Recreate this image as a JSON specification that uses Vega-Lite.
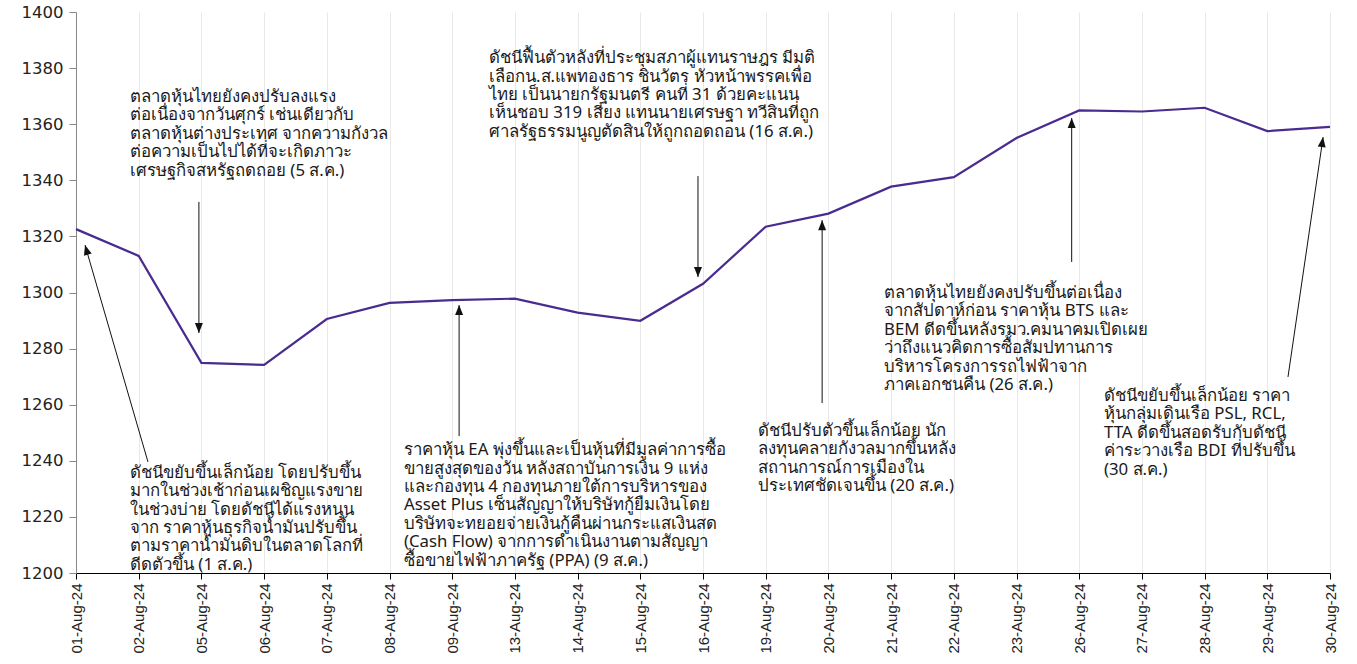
{
  "$schema": "https://vega.github.io/schema/vega-lite/v6.json",
  "width": 1254,
  "height": 561,
  "autosize": {"type": "none"},
  "padding": {"left": 76, "top": 12, "right": 27, "bottom": 91},
  "background": "white",
  "config": {"view": {"stroke": null}, "font": "Liberation Sans"},
  "datasets": {
    "series": [
      {"date": "01-Aug-24", "value": 1322.59},
      {"date": "02-Aug-24", "value": 1313.04},
      {"date": "05-Aug-24", "value": 1274.92},
      {"date": "06-Aug-24", "value": 1274.19},
      {"date": "07-Aug-24", "value": 1290.55},
      {"date": "08-Aug-24", "value": 1296.28},
      {"date": "09-Aug-24", "value": 1297.25},
      {"date": "13-Aug-24", "value": 1297.82},
      {"date": "14-Aug-24", "value": 1292.80},
      {"date": "15-Aug-24", "value": 1289.93},
      {"date": "16-Aug-24", "value": 1303.11},
      {"date": "19-Aug-24", "value": 1323.45},
      {"date": "20-Aug-24", "value": 1328.12},
      {"date": "21-Aug-24", "value": 1337.73},
      {"date": "22-Aug-24", "value": 1341.14},
      {"date": "23-Aug-24", "value": 1355.09},
      {"date": "26-Aug-24", "value": 1364.90},
      {"date": "27-Aug-24", "value": 1364.52},
      {"date": "28-Aug-24", "value": 1365.86},
      {"date": "29-Aug-24", "value": 1357.53},
      {"date": "30-Aug-24", "value": 1359.07}
    ],
    "arrows": [
      {"x": 1.148, "y": 1239.6, "x2": 0.144, "y2": 1316.9, "dir": "upleft"},
      {"x": 1.96, "y": 1332.3, "x2": 1.96, "y2": 1285.6, "dir": "down"},
      {"x": 6.11, "y": 1248.8, "x2": 6.11, "y2": 1295.5, "dir": "up"},
      {"x": 9.92, "y": 1341.5, "x2": 9.92, "y2": 1305.5, "dir": "down"},
      {"x": 11.9, "y": 1260.6, "x2": 11.9, "y2": 1325.8, "dir": "up"},
      {"x": 15.88, "y": 1310.9, "x2": 15.88, "y2": 1362.2, "dir": "up"},
      {"x": 19.33, "y": 1269.9, "x2": 19.89, "y2": 1355.4, "dir": "upright"}
    ],
    "notes": [
      {"x": 0.861, "y": 1372.2, "label": "ตลาดหุ้นไทยยังคงปรับลงแรง\nต่อเนื่องจากวันศุกร์ เช่นเดียวกับ\nตลาดหุ้นต่างประเทศ จากความกังวล\nต่อความเป็นไปได้ที่จะเกิดภาวะ\nเศรษฐกิจสหรัฐถดถอย (5 ส.ค.)"},
      {"x": 6.587, "y": 1386.0, "label": "ดัชนีฟื้นตัวหลังที่ประชุมสภาผู้แทนราษฎร มีมติ\nเลือกน.ส.แพทองธาร ชินวัตร หัวหน้าพรรคเพื่อ\nไทย เป็นนายกรัฐมนตรี คนที่ 31 ด้วยคะแนน\nเห็นชอบ 319 เสียง แทนนายเศรษฐา ทวีสินที่ถูก\nศาลรัฐธรรมนูญตัดสินให้ถูกถอดถอน (16 ส.ค.)"},
      {"x": 0.861, "y": 1238.2, "label": "ดัชนีขยับขึ้นเล็กน้อย โดยปรับขึ้น\nมากในช่วงเช้าก่อนเผชิญแรงขาย\nในช่วงบ่าย โดยดัชนีได้แรงหนุน\nจาก ราคาหุ้นธุรกิจน้ำมันปรับขึ้น\nตามราคาน้ำมันดิบในตลาดโลกที่\nดีดตัวขึ้น (1 ส.ค.)"},
      {"x": 5.231, "y": 1246.3, "label": "ราคาหุ้น EA พุ่งขึ้นและเป็นหุ้นที่มีมูลค่าการซื้อ\nขายสูงสุดของวัน หลังสถาบันการเงิน 9 แห่ง\nและกองทุน 4 กองทุนภายใต้การบริหารของ\nAsset Plus เซ็นสัญญาให้บริษัทกู้ยืมเงินโดย\nบริษัทจะทยอยจ่ายเงินกู้คืนผ่านกระแสเงินสด\n(Cash Flow) จากการดำเนินงานตามสัญญา\nซื้อขายไฟฟ้าภาครัฐ (PPA) (9 ส.ค.)"},
      {"x": 10.877, "y": 1253.1, "label": "ดัชนีปรับตัวขึ้นเล็กน้อย นัก\nลงทุนคลายกังวลมากขึ้นหลัง\nสถานการณ์การเมืองใน\nประเทศชัดเจนขึ้น (20 ส.ค.)"},
      {"x": 12.887, "y": 1302.3, "label": "ตลาดหุ้นไทยยังคงปรับขึ้นต่อเนื่อง\nจากสัปดาห์ก่อน  ราคาหุ้น BTS และ\nBEM ดีดขึ้นหลังรมว.คมนาคมเปิดเผย\nว่าถึงแนวคิดการซื้อสัมปทานการ\nบริหารโครงการรถไฟฟ้าจาก\nภาคเอกชนคืน (26 ส.ค.)"},
      {"x": 16.395, "y": 1265.6, "label": "ดัชนีขยับขึ้นเล็กน้อย ราคา\nหุ้นกลุ่มเดินเรือ PSL, RCL,\nTTA ดีดขึ้นสอดรับกับดัชนี\nค่าระวางเรือ BDI ที่ปรับขึ้น\n(30 ส.ค.)"}
    ]
  },
  "resolve": {"scale": {"x": "independent"}, "axis": {"x": "independent"}},
  "layer": [
    {
      "data": {"name": "series"},
      "mark": {"type": "line", "color": "#4a2b8f", "strokeWidth": 2.2},
      "encoding": {
        "x": {
          "field": "date", "type": "ordinal", "sort": null,
          "scale": {"type": "point", "padding": 0},
          "axis": {
            "title": null, "labelAngle": -90, "labelFontSize": 15, "labelColor": "#222",
            "labelPadding": 4, "domainColor": "#000", "tickColor": "#000", "tickSize": 6,
            "grid": true, "gridColor": "#e8e8e8", "gridWidth": 1
          }
        },
        "y": {
          "field": "value", "type": "quantitative",
          "scale": {"domain": [1200, 1400], "nice": false, "zero": false},
          "axis": {
            "title": null, "values": [1200, 1220, 1240, 1260, 1280, 1300, 1320, 1340, 1360, 1380, 1400],
            "format": "d", "labelFont": "DejaVu Sans",
            "labelFontSize": 16.5, "labelColor": "#222", "labelPadding": 6,
            "domainColor": "#888", "tickColor": "#888", "tickSize": 7, "grid": false
          }
        }
      }
    },
    {
      "data": {"name": "arrows"},
      "layer": [
        {
          "mark": {"type": "rule", "color": "#111", "strokeWidth": 1},
          "encoding": {
            "x": {"field": "x", "type": "quantitative", "scale": {"domain": [0, 20], "nice": false, "zero": false}, "axis": null},
            "y": {"field": "y", "type": "quantitative"},
            "x2": {"field": "x2"},
            "y2": {"field": "y2"}
          }
        },
        {
          "mark": {"type": "point", "filled": true, "color": "#111", "opacity": 1, "size": 100, "strokeWidth": 0},
          "encoding": {
            "x": {"field": "x2", "type": "quantitative", "scale": {"domain": [0, 20], "nice": false, "zero": false}, "axis": null},
            "y": {"field": "y2", "type": "quantitative"},
            "shape": {
              "field": "dir", "type": "nominal", "legend": null,
              "scale": {
                "domain": ["up", "down", "upleft", "upright"],
                "range": ["M0,0L-0.8,2L0.8,2Z", "M0,0L-0.8,-2L0.8,-2Z", "M0,0L1.33,1.70L-0.21,2.14Z", "M0,0L0.50,2.10L-1.08,1.87Z"]
              }
            }
          }
        }
      ]
    },
    {
      "data": {"name": "notes"},
      "mark": {"type": "text", "align": "left", "baseline": "top", "fontSize": 16.8, "lineHeight": 18.4, "lineBreak": "\n", "color": "#1a1a1a", "font": "Noto Sans", "dy": -1},
      "encoding": {
        "x": {"field": "x", "type": "quantitative", "scale": {"domain": [0, 20], "nice": false, "zero": false}, "axis": null},
        "y": {"field": "y", "type": "quantitative"},
        "text": {"field": "label"}
      }
    }
  ]
}
